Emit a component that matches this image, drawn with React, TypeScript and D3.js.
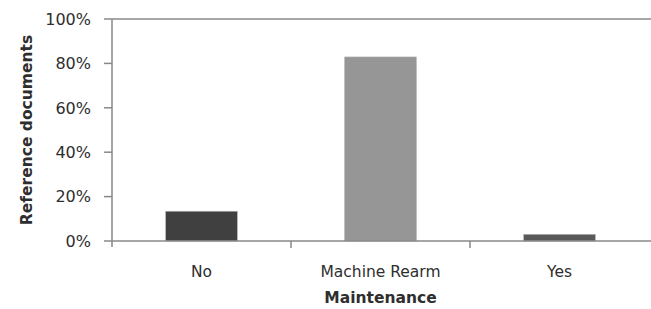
import { useEffect, useRef } from 'react';
import * as d3 from 'd3';

const categories = ['No', 'Machine Rearm', 'Yes'];
const shares = [0.134, 0.829, 0.03];
const barColors = ['#404040', '#969696', '#595959'];
const yTicks = [0, 0.2, 0.4, 0.6, 0.8, 1];

const width = 651;
const height = 309;
const font = '"DejaVu Sans", sans-serif';

export default function App() {
  const svgRef = useRef<SVGSVGElement>(null);

  useEffect(() => {
    if (!svgRef.current) return;
    const svg = d3.select(svgRef.current);
    svg.selectAll('*').remove();

    const left = 112;
    const right = 649;
    const top = 19;
    const bottom = 241;

    const x = d3.scaleBand<string>()
      .domain(categories)
      .range([left, right])
      .paddingInner(0.6)
      .paddingOuter(0.3);

    const y = d3.scaleLinear().domain([0, 1]).range([bottom, top]);

    const axisColor = '#888888';
    const textColor = '#2e2e2e';

    // top line at 100%
    svg.append('line')
      .attr('x1', left).attr('x2', width)
      .attr('y1', y(1)).attr('y2', y(1))
      .attr('stroke', axisColor).attr('stroke-width', 1.5);

    // bars
    svg.selectAll('.bar')
      .data(categories.map((c, i) => ({ c, v: shares[i], color: barColors[i] })))
      .enter()
      .append('rect')
      .attr('x', d => x(d.c) || 0)
      .attr('y', d => y(d.v))
      .attr('width', x.bandwidth())
      .attr('height', d => bottom - y(d.v))
      .attr('fill', d => d.color)
      .attr('stroke', '#b0b0b0')
      .attr('stroke-width', 0.6);

    // y axis
    svg.append('line')
      .attr('x1', left).attr('x2', left)
      .attr('y1', top).attr('y2', bottom + 6)
      .attr('stroke', axisColor).attr('stroke-width', 1.5);

    yTicks.forEach(t => {
      svg.append('line')
        .attr('x1', left - 8).attr('x2', left)
        .attr('y1', y(t)).attr('y2', y(t))
        .attr('stroke', axisColor).attr('stroke-width', 1.5);
      svg.append('text')
        .attr('x', 91)
        .attr('y', y(t))
        .attr('dy', '0.36em')
        .attr('text-anchor', 'end')
        .attr('font-size', '16px')
        .attr('font-family', font)
        .attr('fill', textColor)
        .text(d3.format('.0%')(t));
    });

    // x axis
    svg.append('line')
      .attr('x1', left).attr('x2', width)
      .attr('y1', bottom).attr('y2', bottom)
      .attr('stroke', axisColor).attr('stroke-width', 1.5);

    const step = x.step();
    categories.forEach((c, i) => {
      if (i > 0) {
        const bx = (x(c) || 0) - (step - x.bandwidth()) / 2;
        svg.append('line')
          .attr('x1', bx).attr('x2', bx)
          .attr('y1', bottom).attr('y2', bottom + 7)
          .attr('stroke', axisColor).attr('stroke-width', 1.5);
      }
      svg.append('text')
        .attr('x', (x(c) || 0) + x.bandwidth() / 2)
        .attr('y', 277)
        .attr('text-anchor', 'middle')
        .attr('font-size', '15.5px')
        .attr('font-family', font)
        .attr('fill', textColor)
        .text(c);
    });

    // axis titles
    svg.append('text')
      .attr('x', (left + right) / 2)
      .attr('y', 303)
      .attr('text-anchor', 'middle')
      .attr('font-size', '15.5px')
      .attr('font-weight', '700')
      .attr('font-family', font)
      .attr('fill', textColor)
      .text('Maintenance');

    svg.append('text')
      .attr('transform', `translate(32, ${(top + bottom) / 2}) rotate(-90)`)
      .attr('text-anchor', 'middle')
      .attr('font-size', '15.5px')
      .attr('font-weight', '700')
      .attr('font-family', font)
      .attr('fill', textColor)
      .text('Reference documents');
  }, []);

  return (
    <svg
      ref={svgRef}
      width={width}
      height={height}
      style={{ position: 'absolute', left: 0, top: 0, background: '#fff' }}
    />
  );
}
